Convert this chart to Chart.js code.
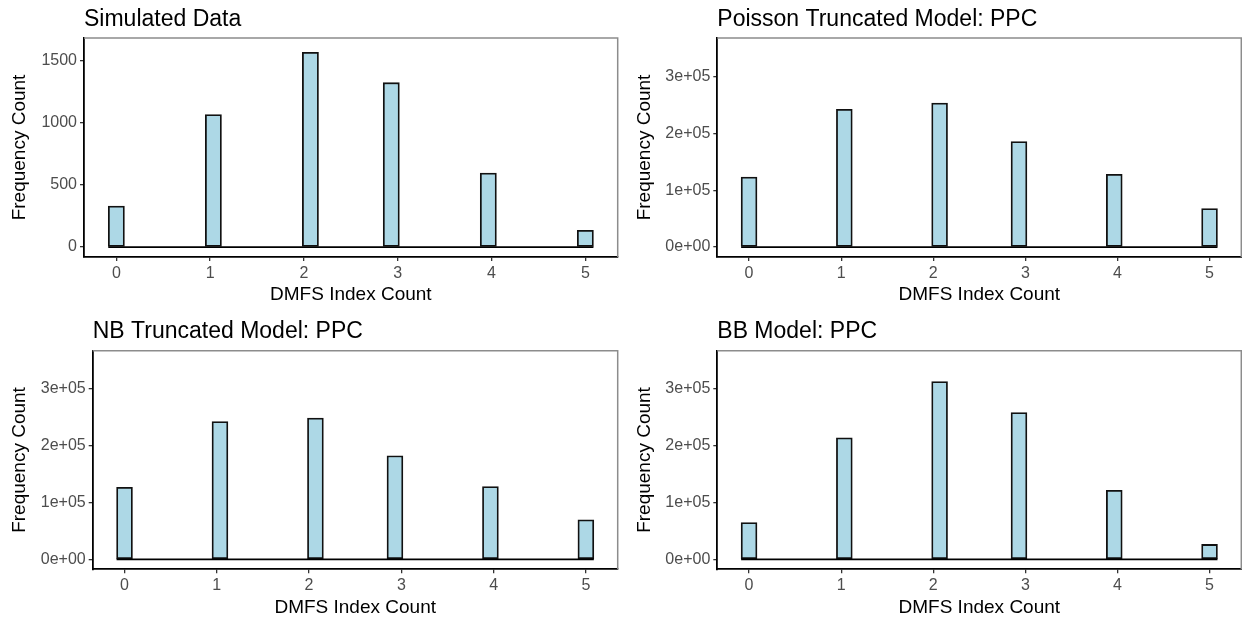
<!DOCTYPE html>
<html>
<head>
<meta charset="utf-8">
<title>DMFS Index Count</title>
<script src="https://cdn.jsdelivr.net/npm/chart.js@4.4.1/dist/chart.umd.min.js"></script>
<style>
  body { margin: 0; background: #fff; }
  canvas { position: absolute; }
</style>
</head>
<body>
<canvas id="simChart" width="621" height="309" style="left:0;top:0"></canvas>
<canvas id="poisChart" width="621" height="309" style="left:621px;top:0"></canvas>
<canvas id="nbChart" width="621" height="310" style="left:0;top:309px"></canvas>
<canvas id="bbChart" width="621" height="310" style="left:621px;top:309px"></canvas>
<script>
// DMFS index values and the frequency counts for each panel
const dmfsValues = [0, 1, 2, 3, 4, 5]
const simulatedCounts = [329, 1065, 1565, 1321, 594, 134]
const poissonCounts = [123000, 242000, 253000, 185500, 127800, 67800]
const nbCounts = [126800, 242600, 249000, 182500, 128100, 69500]
const bbCounts = [64900, 214000, 313300, 258400, 121600, 26300]

// axis ticks
const xTickLabels = ["0", "1", "2", "3", "4", "5"]
const simTicks = [0, 500, 1000, 1500]
const simTickLabels = ["0", "500", "1000", "1500"]
const ppcTicks = [0, 100000, 200000, 300000]
const ppcTickLabels = ["0e+00", "1e+05", "2e+05", "3e+05"]

const FONT = "'Liberation Sans', Arial, sans-serif"

// histogram binning, 30 bins over the value range (like geom_histogram default)
const nBins = 30
const lowVal = dmfsValues[0]
const highVal = dmfsValues[dmfsValues.length - 1]
const binWidth = (highVal - lowVal) / (nBins - 1)
const binLo = lowVal - binWidth / 2
const binHi = highVal + binWidth / 2
const xPad = (binHi - binLo) * 0.05

function histogram(counts) {
    let bins = []
    for (let k = 0; k < nBins; k++) {
        bins.push({ x: lowVal + k * binWidth, y: 0 })
    }
    dmfsValues.forEach((v, i) => {
        bins[Math.round((v - lowVal) / binWidth)].y = counts[i]
    })
    return bins
}

// grey frame on top and right of the panel
const panelFrame = {
    id: "panelFrame",
    beforeDatasetsDraw(chart) {
        const { ctx, chartArea: a } = chart
        ctx.save()
        ctx.strokeStyle = "#8c8c8c"
        ctx.lineWidth = 1.5
        ctx.beginPath()
        ctx.moveTo(a.left, a.top)
        ctx.lineTo(a.right, a.top)
        ctx.lineTo(a.right, a.bottom)
        ctx.stroke()
        ctx.restore()
    }
}

function makePanel(id, title, counts, yMin, yMax, yTicks, yTickLabels, geo) {
    let ctx = document.querySelector("#" + id).getContext("2d")
    return new Chart(ctx, {
        type: "bar",
        data: {
            datasets: [
                {
                    type: "line",
                    data: [{ x: binLo, y: 0 }, { x: binHi, y: 0 }],
                    borderColor: "#000",
                    borderWidth: 1.8,
                    pointRadius: 0,
                    order: 0
                },
                {
                    type: "bar",
                    data: histogram(counts),
                    backgroundColor: "#ADD8E6",
                    borderColor: "#111",
                    borderWidth: 1.8,
                    borderSkipped: false,
                    barPercentage: 1,
                    categoryPercentage: 1,
                    order: 1
                }
            ]
        },
        options: {
            responsive: false,
            animation: false,
            layout: {
                padding: { left: 0, right: geo.padRight, top: geo.padTop, bottom: 0 }
            },
            plugins: {
                legend: { display: false },
                tooltip: { enabled: false },
                title: {
                    display: true,
                    text: title,
                    align: "start",
                    fullSize: false,
                    color: "#000",
                    font: { family: FONT, size: 23, weight: "normal", lineHeight: 1.2 },
                    padding: { top: 0, bottom: geo.titleGap }
                }
            },
            scales: {
                x: {
                    type: "linear",
                    min: binLo - xPad,
                    max: binHi + xPad,
                    offset: false,
                    afterBuildTicks: (scale) => {
                        scale.ticks = dmfsValues.map(v => ({ value: v }))
                    },
                    afterFit: (scale) => { scale.height = geo.axisH },
                    ticks: {
                        autoSkip: false,
                        maxRotation: 0,
                        padding: 3,
                        color: "#4d4d4d",
                        font: { family: FONT, size: 16 },
                        callback: (value, index) => xTickLabels[index]
                    },
                    grid: { offset: false, drawOnChartArea: false, tickLength: 4, color: "#333", lineWidth: 1.3 },
                    border: { display: true, color: "#000", width: 1.8 },
                    title: {
                        display: true,
                        text: "DMFS Index Count",
                        color: "#000",
                        font: { family: FONT, size: 19, lineHeight: 1.2 },
                        padding: { top: 0, bottom: geo.xTitlePad }
                    }
                },
                y: {
                    min: yMin,
                    max: yMax,
                    afterBuildTicks: (scale) => {
                        scale.ticks = yTicks.map(v => ({ value: v }))
                    },
                    afterFit: (scale) => { scale.width = geo.axisW },
                    ticks: {
                        autoSkip: false,
                        padding: 3,
                        color: "#4d4d4d",
                        font: { family: FONT, size: 16 },
                        callback: (value, index) => yTickLabels[index]
                    },
                    grid: { drawOnChartArea: false, tickLength: 4, color: "#333", lineWidth: 1.3 },
                    border: { display: true, color: "#000", width: 1.8 },
                    title: {
                        display: true,
                        text: "Frequency Count",
                        color: "#000",
                        font: { family: FONT, size: 19, lineHeight: 1.2 },
                        padding: { top: geo.yTitlePad, bottom: 0 }
                    }
                }
            }
        },
        plugins: [panelFrame]
    })
}

makePanel("simChart", "Simulated Data", simulatedCounts, -80, 1680, simTicks, simTickLabels,
    { axisW: 84, axisH: 52, padTop: 5.9, titleGap: 4.5, padRight: 3.3, yTitlePad: 8.6, xTitlePad: 3.2 })

makePanel("poisChart", "Poisson Truncated Model: PPC", poissonCounts, -17500, 367500, ppcTicks, ppcTickLabels,
    { axisW: 96.3, axisH: 52, padTop: 5.9, titleGap: 4.5, padRight: 0.7, yTitlePad: 12.6, xTitlePad: 3.2 })

makePanel("nbChart", "NB Truncated Model: PPC", nbCounts, -17500, 367500, ppcTicks, ppcTickLabels,
    { axisW: 92.7, axisH: 49.7, padTop: 9, titleGap: 5.1, padRight: 3.3, yTitlePad: 8.6, xTitlePad: 0.2 })

makePanel("bbChart", "BB Model: PPC", bbCounts, -17500, 367500, ppcTicks, ppcTickLabels,
    { axisW: 96.3, axisH: 49.7, padTop: 9, titleGap: 5.1, padRight: 0.7, yTitlePad: 12.6, xTitlePad: 0.2 })
</script>
</body>
</html>
